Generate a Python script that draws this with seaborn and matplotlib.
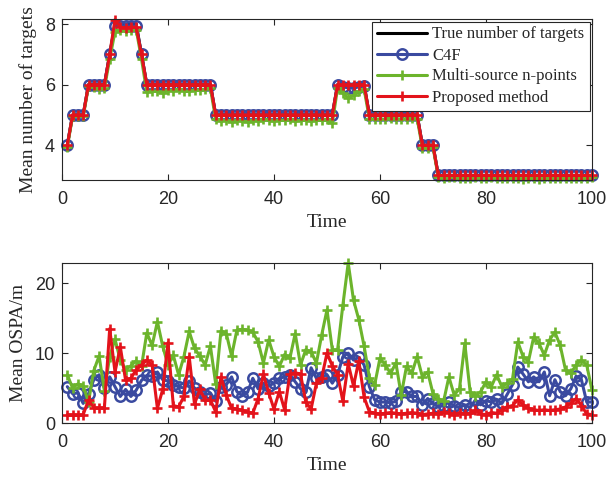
import matplotlib
matplotlib.use("Agg")
import matplotlib.pyplot as plt
import seaborn as sns
import pandas as pd

# ---------------- data ----------------
time = list(range(1, 101))

true_count = [4, 5, 5, 5, 6, 6, 6, 6, 7, 8,
              8, 8, 8, 8, 7, 6, 6, 6, 6, 6,
              6, 6, 6, 6, 6, 6, 6, 6, 5, 5,
              5, 5, 5, 5, 5, 5, 5, 5, 5, 5,
              5, 5, 5, 5, 5, 5, 5, 5, 5, 5,
              5, 6, 6, 6, 6, 6, 6, 5, 5, 5,
              5, 5, 5, 5, 5, 5, 5, 4, 4, 4,
              3, 3, 3, 3, 3, 3, 3, 3, 3, 3,
              3, 3, 3, 3, 3, 3, 3, 3, 3, 3,
              3, 3, 3, 3, 3, 3, 3, 3, 3, 3]

c4f_count = [4, 5, 5, 5, 6, 6, 6, 6, 7, 7.95,
             7.95, 7.95, 7.95, 7.95, 7, 6, 6, 6, 6, 6,
             6, 6, 6, 6, 6, 6, 6, 6, 5, 5,
             5, 5, 5, 5, 5, 5, 5, 5, 5, 5,
             5, 5, 5, 5, 5, 5, 5, 5, 5, 5,
             5, 6, 5.92, 5.9, 5.88, 5.93, 5.95, 5, 5, 5,
             5, 5, 5, 5, 5, 5, 5, 4, 4, 4,
             3, 3, 3, 3, 3, 3, 3, 3, 3, 3,
             3, 3, 3, 3, 3, 3, 3, 3, 3, 3,
             3, 3, 3, 3, 3, 3, 3, 3, 3, 3]

msnp_count = [3.95, 4.95, 4.97, 4.95, 5.95, 5.93, 5.85, 5.88, 6.85, 7.75,
              7.8, 7.78, 7.8, 7.82, 6.85, 5.75, 5.8, 5.78, 5.72, 5.82,
              5.8, 5.85, 5.8, 5.78, 5.83, 5.82, 5.85, 5.88, 4.85, 4.8,
              4.83, 4.78, 4.82, 4.8, 4.78, 4.82, 4.8, 4.85, 4.82, 4.8,
              4.83, 4.82, 4.85, 4.8, 4.82, 4.84, 4.8, 4.83, 4.82, 4.85,
              4.72, 5.9, 5.72, 5.55, 5.65, 5.78, 5.85, 4.88, 4.85, 4.87,
              4.85, 4.9, 4.88, 4.86, 4.88, 4.9, 4.88, 3.92, 3.9, 3.93,
              2.95, 2.93, 2.95, 2.94, 2.93, 2.9, 2.93, 2.95, 2.92, 2.93,
              2.94, 2.92, 2.93, 2.9, 2.92, 2.9, 2.88, 2.9, 2.92, 2.88,
              2.9, 2.9, 2.92, 2.9, 2.92, 2.9, 2.93, 2.9, 2.92, 2.95]

proposed_count = [4, 5, 5, 5, 6, 6, 6, 6, 7, 8.15,
                  7.9, 7.88, 7.9, 7.9, 7, 6, 6, 6, 6, 6,
                  6, 6, 6, 6, 6, 6, 6, 6, 5, 5,
                  5, 5, 5, 5, 5, 5, 5, 5, 5, 5,
                  5, 5, 5, 5, 5, 5, 5, 5, 5, 5,
                  5, 6, 6, 6, 6, 6, 6, 5, 5, 5,
                  5, 5, 5, 5, 5, 5, 5, 4, 4, 4,
                  3, 3, 3, 3, 3, 3, 3, 3, 3, 3,
                  3, 3, 3, 3, 3, 3, 3, 3, 3, 3,
                  3, 3, 3, 3, 3, 3, 3, 3, 3, 3]

c4f_ospa = [5.2, 4.2, 4.3, 2.8, 4.2, 6.2, 6.9, 5.0, 6.6, 5.2,
            3.8, 4.8, 3.8, 4.7, 6.1, 6.8, 6.7, 7.3, 6.2, 6.0,
            5.5, 5.2, 5.0, 6.0, 5.0, 4.5, 4.0, 4.3, 3.1, 5.2,
            5.5, 6.6, 4.5, 3.9, 4.4, 6.4, 4.9, 5.7, 5.3, 5.7,
            6.4, 6.6, 6.9, 5.9, 4.9, 4.4, 7.9, 6.4, 6.6, 6.9,
            5.7, 6.9, 9.5, 10.0, 9.0, 9.4, 8.3, 5.2, 3.3, 3.0,
            3.0, 2.9, 3.1, 4.5, 4.5, 3.8, 3.8, 2.6, 3.5, 2.8,
            2.3, 2.5, 3.0, 2.4, 2.2, 2.6, 2.2, 3.3, 2.6, 3.2,
            3.0, 3.4, 2.8, 4.1, 5.5, 8.0, 7.0, 5.9, 6.6, 5.9,
            7.3, 3.9, 6.2, 4.5, 3.9, 4.9, 6.7, 6.2, 3.0, 3.0]

msnp_ospa = [6.9, 5.0, 5.6, 5.3, 3.0, 7.5, 9.6, 4.6, 9.5, 12.0,
             9.0, 7.6, 8.2, 8.9, 8.1, 12.9, 11.1, 14.5, 11.0, 8.3,
             9.7, 6.9, 9.5, 13.1, 10.7, 9.6, 8.3, 11.0, 5.6, 13.2,
             12.8, 9.6, 13.3, 13.4, 13.3, 13.0, 11.6, 8.6, 11.9, 9.5,
             8.1, 9.8, 9.3, 12.8, 8.3, 10.5, 10.2, 8.6, 12.6, 16.2,
             10.5, 10.5, 16.9, 22.9, 17.6, 14.8, 11.0, 6.5, 5.5, 9.3,
             8.3, 7.1, 8.6, 4.0, 8.1, 7.1, 9.5, 6.6, 7.3, 4.2,
             3.5, 3.1, 6.6, 4.0, 4.9, 11.4, 4.5, 3.8, 4.5, 5.9,
             5.2, 6.9, 5.2, 5.7, 6.3, 11.6, 9.5, 8.8, 12.3, 11.4,
             9.7, 11.9, 13.0, 11.1, 7.6, 7.1, 8.3, 9.0, 8.3, 4.7]

proposed_ospa = [1.2, 1.2, 1.2, 1.2, 3.3, 2.2, 2.2, 2.2, 13.5, 7.3,
                 10.9, 6.1, 6.4, 7.6, 8.3, 9.0, 8.3, 2.1, 4.8, 11.5,
                 2.5, 2.3, 3.8, 9.5, 2.7, 4.8, 3.3, 3.3, 1.6, 6.6,
                 4.0, 2.1, 2.0, 1.8, 1.6, 1.4, 3.5, 7.0, 4.3, 2.0,
                 4.5, 1.9, 7.0, 7.2, 7.0, 3.0, 2.0, 5.7, 6.5, 10.0,
                 8.2, 6.9, 3.1, 8.5, 5.3, 8.9, 3.7, 1.6, 1.4, 1.3,
                 1.4, 1.5, 1.4, 1.3, 1.4, 1.5, 1.4, 1.2, 1.3, 1.4,
                 1.3, 1.6, 1.5, 1.2, 1.5, 1.3, 1.4, 1.8, 1.3, 1.2,
                 1.5, 1.4, 1.9, 2.3, 2.5, 3.3, 2.6, 2.1, 1.9, 1.8,
                 1.9, 1.8, 1.9, 2.0, 2.3, 2.8, 3.5, 2.5, 1.3, 1.2]

labels = ["True number of targets", "C4F", "Multi-source n-points", "Proposed method"]

# ---------------- style ----------------
sns.set_theme(style="ticks")
plt.rcParams["font.family"] = ["Liberation Sans", "DejaVu Sans"]
serif = ["Liberation Serif", "DejaVu Serif"]
axis_color = "#262626"

c_true = "black"
c_c4f = "#3a4aa0"
c_msnp = "#6cb42c"
c_prop = "#e3131b"

fig = plt.figure(figsize=(6.09, 4.79), dpi=100)
W, H = 609, 479
ax1 = fig.add_axes([62 / W, 1 - 180 / H, 530 / W, 161 / H])
ax2 = fig.add_axes([62 / W, 1 - 423 / H, 530 / W, 160 / H])

line_kw = dict(linewidth=2.2, clip_on=False)
circ_kw = dict(marker="o", markersize=7.5, markerfacecolor="none",
               markeredgewidth=1.8)
plus_kw = dict(marker="+", markersize=7.5, markeredgewidth=1.9)

count_df = pd.DataFrame({"Time": time, "true": true_count, "c4f": c4f_count,
                         "msnp": msnp_count, "prop": proposed_count})
ospa_df = pd.DataFrame({"Time": time, "c4f": c4f_ospa,
                        "msnp": msnp_ospa, "prop": proposed_ospa})

# top panel: estimated number of targets
sns.lineplot(data=count_df, x="Time", y="true", ax=ax1, color=c_true,
             label=labels[0], **line_kw)
sns.lineplot(data=count_df, x="Time", y="c4f", ax=ax1, color=c_c4f,
             markeredgecolor=c_c4f, label=labels[1], **line_kw, **circ_kw)
sns.lineplot(data=count_df, x="Time", y="msnp", ax=ax1, color=c_msnp,
             markeredgecolor=c_msnp, label=labels[2], **line_kw, **plus_kw)
sns.lineplot(data=count_df, x="Time", y="prop", ax=ax1, color=c_prop,
             markeredgecolor=c_prop, label=labels[3], **line_kw, **plus_kw)

# bottom panel: OSPA distance
sns.lineplot(data=ospa_df, x="Time", y="c4f", ax=ax2, color=c_c4f,
             markeredgecolor=c_c4f, **line_kw, **circ_kw)
sns.lineplot(data=ospa_df, x="Time", y="msnp", ax=ax2, color=c_msnp,
             markeredgecolor=c_msnp, **line_kw, **plus_kw)
sns.lineplot(data=ospa_df, x="Time", y="prop", ax=ax2, color=c_prop,
             markeredgecolor=c_prop, **line_kw, **plus_kw)

ax1.set_xlim(0, 100)
ax1.set_ylim(2.85, 8.17)
ax1.set_yticks([4, 6, 8])
ax2.set_xlim(0, 100)
ax2.set_ylim(0, 22.9)
ax2.set_yticks([0, 10, 20])

for ax, ylab in ((ax1, "Mean number of targets"), (ax2, "Mean OSPA/m")):
    ax.set_xticks([0, 20, 40, 60, 80, 100])
    ax.tick_params(direction="in", top=True, right=True, length=4,
                   width=0.8, color=axis_color, labelcolor=axis_color,
                   labelsize=13, pad=5)
    ax.tick_params(axis="x", pad=8)
    for s in ax.spines.values():
        s.set_color(axis_color)
        s.set_linewidth(0.8)
    ax.set_xlabel("Time", family=serif, fontsize=14, color=axis_color,
                  labelpad=4)
    ax.set_ylabel(ylab, family=serif, fontsize=14, color=axis_color,
                  labelpad=6)

leg = ax1.legend(loc="upper right", borderaxespad=0.15, fancybox=False,
                 framealpha=1, edgecolor=axis_color,
                 prop={"family": serif, "size": 12}, handlelength=3.0,
                 handletextpad=0.3, labelspacing=0.3, borderpad=0.3)
leg.get_frame().set_linewidth(0.8)
leg.set_zorder(10)

fig.savefig("out.png", dpi=100)
